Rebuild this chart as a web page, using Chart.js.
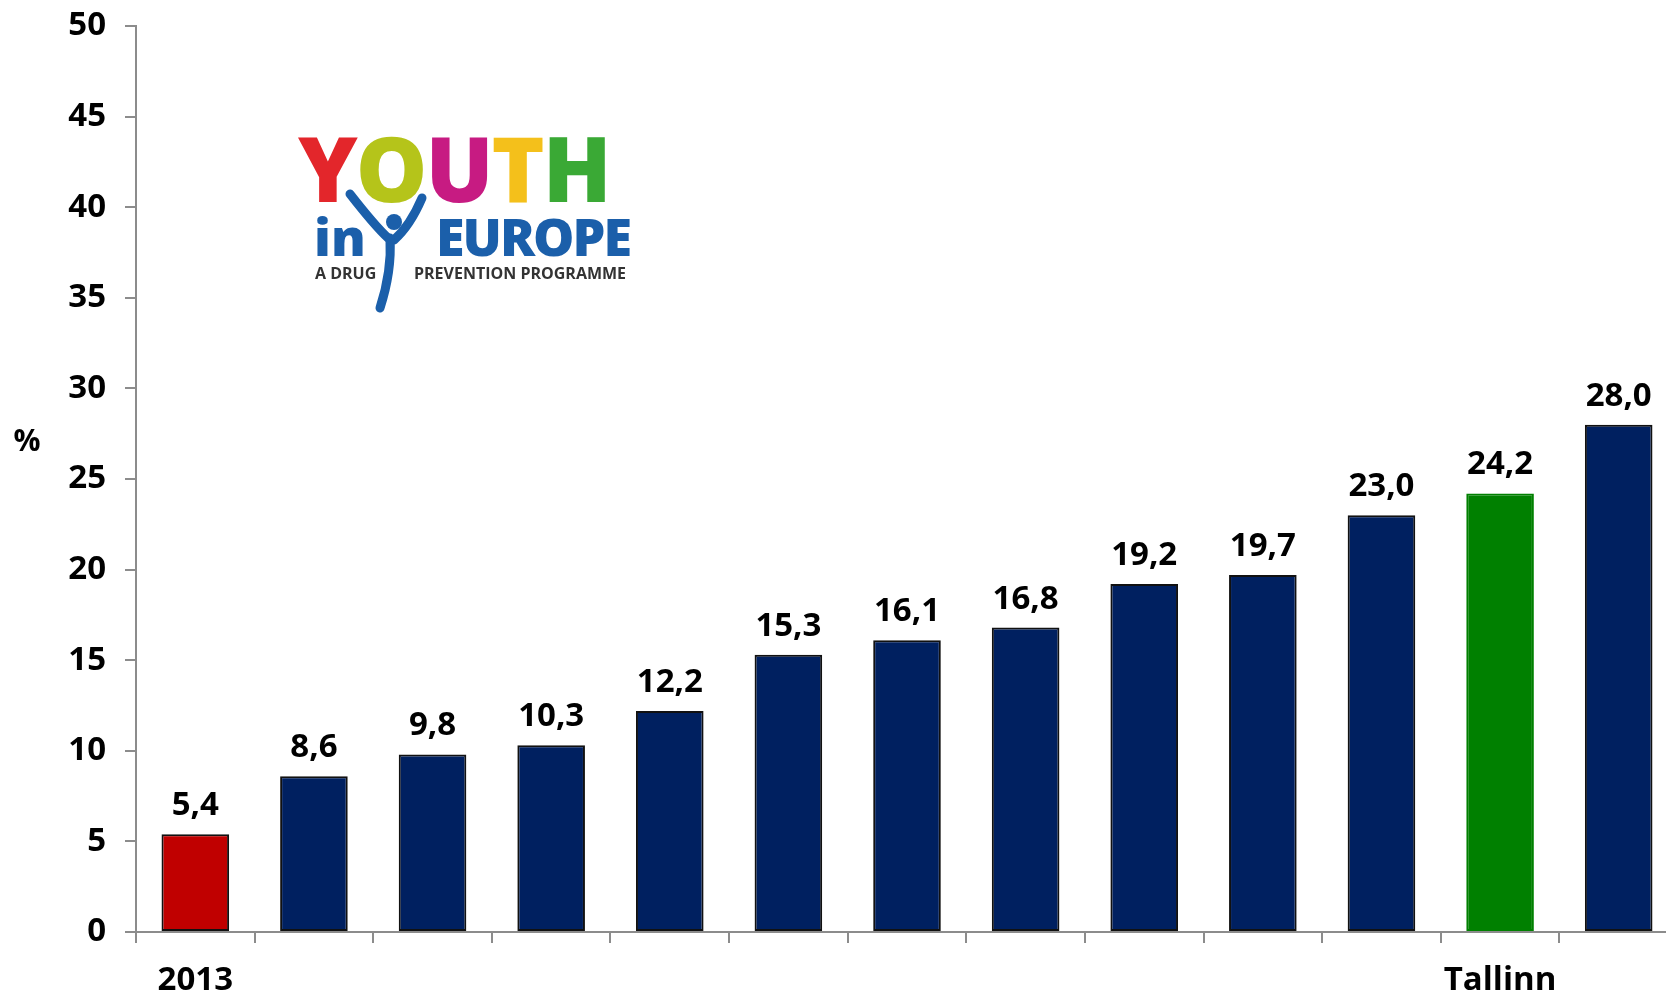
<!DOCTYPE html>
<html>
<head>
<meta charset="utf-8">
<script src="https://cdn.jsdelivr.net/npm/chart.js@4"></script>
<style>
  html, body { margin: 0; background: #fff; overflow: hidden; }
  #wrap { position: relative; width: 1678px; height: 994px; }
  .logo { position: absolute; font-family: "Open Sans", sans-serif; line-height: 1; white-space: pre; }
  #youth { left: 298px; top: 122px; font-size: 90px; font-weight: 800; letter-spacing: -2px; }
  #inword { left: 314px; top: 210px; font-size: 52px; font-weight: 800; color: #1b5faa; }
  #europe { left: 436px; top: 210px; font-size: 52px; font-weight: 800; color: #1b5faa; letter-spacing: -2px; }
  #tag1 { left: 315px; top: 265px; font-size: 16px; font-weight: 700; color: #333; }
  #tag2 { left: 414px; top: 265px; font-size: 16px; font-weight: 700; color: #333; }
  #figure { position: absolute; left: 330px; top: 176px; }
</style>
</head>
<body>
<div id="wrap">
  <canvas id="chart"></canvas>
  <div class="logo" id="youth"><span style="color:#e3262b">Y</span><span style="color:#b5c41a">O</span><span style="color:#c71b82">U</span><span style="color:#f4c01b">T</span><span style="color:#3aa935">H</span></div>
  <div class="logo" id="inword">in</div>
  <div class="logo" id="europe">EUROPE</div>
  <div class="logo" id="tag1">A DRUG</div>
  <div class="logo" id="tag2">PREVENTION PROGRAMME</div>
  <svg id="figure" width="110" height="140" viewBox="0 0 110 140">
    <g stroke="#1b5faa" stroke-width="9" stroke-linecap="round" fill="none">
      <path d="M20 18 Q45 50 58 62"/>
      <path d="M92 22 Q80 50 64 64"/>
      <path d="M60 62 Q62 95 50 132"/>
    </g>
    <circle cx="64" cy="46" r="8" fill="#1b5faa"/>
  </svg>
</div>
<script>
// values
const categories = ['2013', '', '', '', '', '', '', '', '', '', '', 'Tallinn', ''];
const values = [5.4, 8.6, 9.8, 10.3, 12.2, 15.3, 16.1, 16.8, 19.2, 19.7, 23.0, 24.2, 28.0];
const barColors = ['#c00000', '#002060', '#002060', '#002060', '#002060', '#002060', '#002060',
                   '#002060', '#002060', '#002060', '#002060', '#008000', '#002060'];
const yTicks = [0, 5, 10, 15, 20, 25, 30, 35, 40, 45, 50];

const axisGray = '#8c8c8c';
const fontBold = { family: '"Open Sans", sans-serif', size: 33, weight: 'bold' };

// value labels, the % label and the axis line running to the edge
const extras = {
  id: 'extras',
  afterDatasetsDraw(chart) {
    const ctx = chart.ctx;
    const area = chart.chartArea;
    ctx.save();
    ctx.strokeStyle = axisGray;
    ctx.lineWidth = 2;
    ctx.beginPath();
    ctx.moveTo(area.right, area.bottom);
    ctx.lineTo(chart.width, area.bottom);
    ctx.stroke();

    ctx.fillStyle = '#000';
    ctx.font = 'bold 33px "Open Sans", sans-serif';
    ctx.textAlign = 'center';
    ctx.textBaseline = 'alphabetic';
    chart.getDatasetMeta(0).data.forEach((bar, i) => {
      ctx.fillText(values[i].toFixed(1).replace('.', ','), bar.x, bar.y - 19);
    });

    ctx.font = 'bold 30px "Open Sans", sans-serif';
    ctx.textBaseline = 'middle';
    ctx.fillText('%', 27, chart.scales.y.getPixelForValue(27));
    ctx.restore();
  }
};

new Chart(document.getElementById('chart'), {
  type: 'bar',
  data: {
    labels: categories,
    datasets: [{
      data: values,
      backgroundColor: barColors,
      borderColor: barColors.map(c => c === '#008000' ? '#008000' : '#111'),
      borderWidth: 2,
      borderSkipped: false,
      categoryPercentage: 1,
      barPercentage: 0.57
    }]
  },
  options: {
    responsive: true,
    maintainAspectRatio: false,
    animation: false,
    layout: { padding: { left: 0, right: 0, top: 26, bottom: 0 } },
    plugins: { legend: { display: false }, tooltip: { enabled: false } },
    scales: {
      x: {
        grid: { offset: true, drawOnChartArea: false, tickLength: 11, color: axisGray, lineWidth: 2 },
        border: { color: axisGray, width: 2 },
        ticks: { color: '#000', font: fontBold, padding: 18, maxRotation: 0, autoSkip: false },
        afterFit(scale) {
          scale.height = 994 - 932;
          scale.paddingLeft = 0;
          scale.paddingRight = 0;
        }
      },
      y: {
        min: 0,
        max: 50,
        afterBuildTicks(scale) { scale.ticks = yTicks.map(v => ({ value: v })); },
        grid: { drawOnChartArea: false, tickLength: 11, color: axisGray, lineWidth: 2 },
        border: { color: axisGray, width: 2 },
        ticks: { color: '#000', font: fontBold, padding: 19 },
        afterFit(scale) {
          scale.width = 136;
          scale.paddingTop = 0;
          scale.paddingBottom = 0;
        }
      }
    }
  },
  plugins: [extras]
});
</script>
</body>
</html>
